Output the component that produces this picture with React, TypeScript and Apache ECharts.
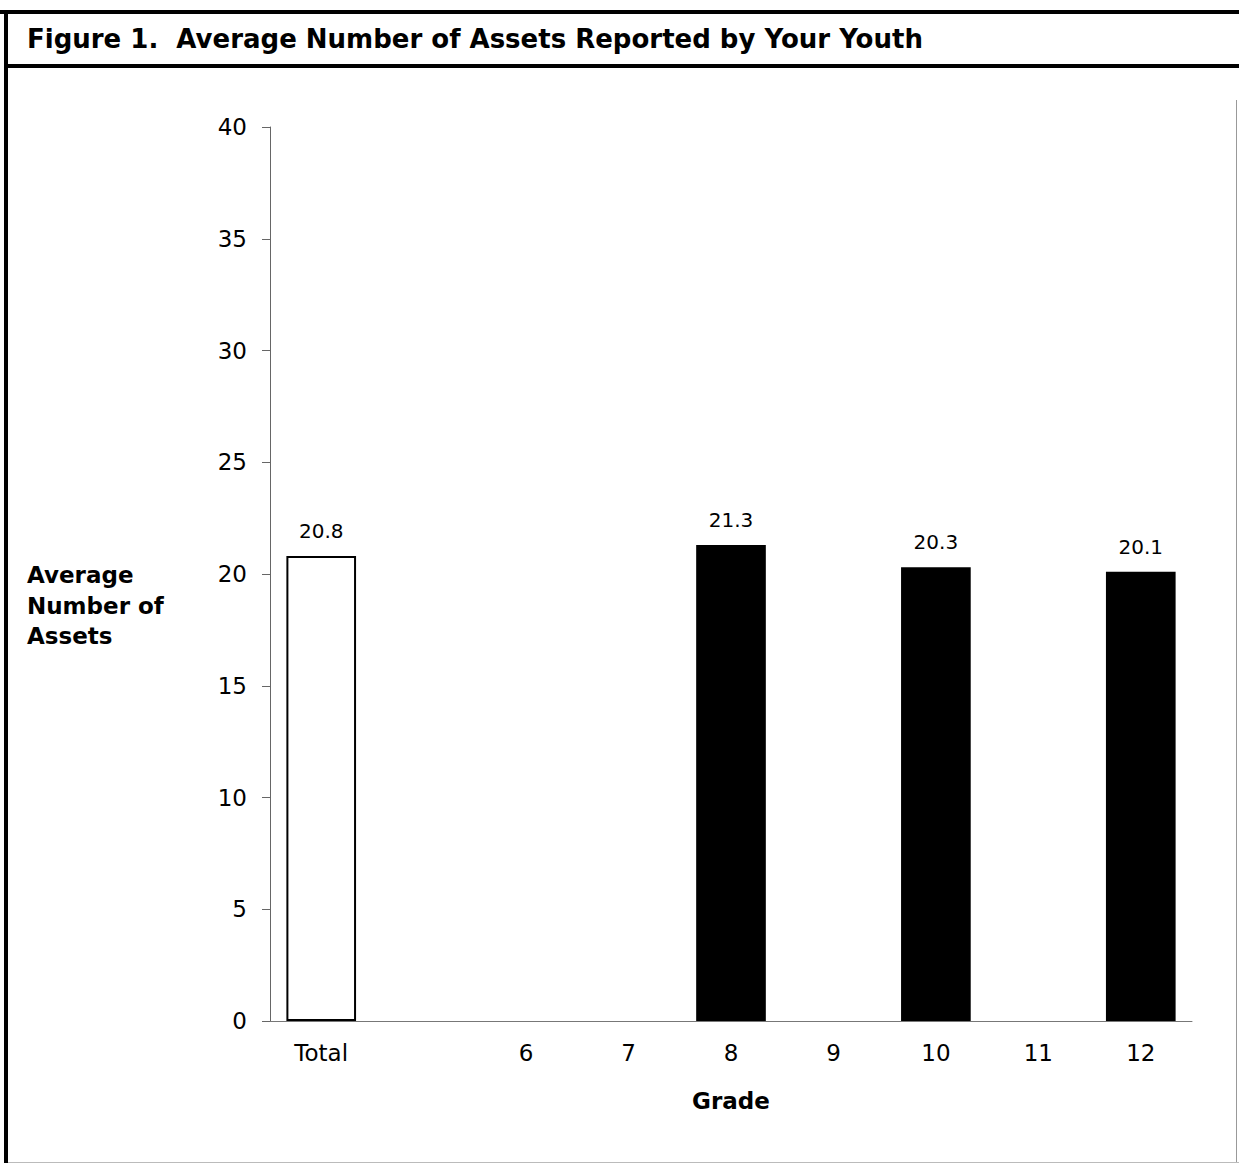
import React, { useEffect, useRef } from "react";
import * as echarts from "echarts";

const categories = ["Total", "", "6", "7", "8", "9", "10", "11", "12"];
const values: (number | null)[] = [20.8, null, null, null, 21.3, null, 20.3, null, 20.1];
const titleText = "Figure 1.  Average Number of Assets Reported by Your Youth";
const yAxisName = "Average\nNumber of\nAssets";
const xAxisName = "Grade";

export default function App() {
  const ref = useRef<HTMLDivElement>(null);
  useEffect(() => {
    if (!ref.current) return;
    const chart = echarts.init(ref.current, null, { renderer: "svg" });
    const font = "'DejaVu Sans', sans-serif";
    chart.setOption({
      animation: false,
      backgroundColor: "#ffffff",
      textStyle: { fontFamily: font },
      grid: { left: 270, right: 47, top: 127, bottom: 142, containLabel: false },
      xAxis: {
        type: "category",
        data: categories,
        axisLine: { show: true, lineStyle: { color: "#777", width: 1 } },
        axisTick: { show: false },
        axisLabel: { color: "#000", fontSize: 23, fontFamily: font, margin: 20 },
        name: xAxisName,
        nameLocation: "middle",
        nameGap: 68,
        nameTextStyle: { color: "#000", fontSize: 23, fontWeight: "bold", fontFamily: font },
      },
      yAxis: {
        type: "value",
        min: 0,
        max: 40,
        interval: 5,
        splitLine: { show: false },
        axisLine: { show: true, lineStyle: { color: "#666", width: 1 } },
        axisTick: { show: true, length: 8, lineStyle: { color: "#666", width: 1 } },
        axisLabel: { color: "#000", fontSize: 23, fontFamily: font, margin: 23 },
      },
      graphic: [
        { type: "rect", shape: { x: 0, y: 10, width: 1239, height: 4 }, style: { fill: "#000" } },
        { type: "rect", shape: { x: 4, y: 10, width: 4, height: 1153 }, style: { fill: "#000" } },
        { type: "rect", shape: { x: 4, y: 64, width: 1235, height: 4 }, style: { fill: "#000" } },
        { type: "line", shape: { x1: 1236.5, y1: 100, x2: 1236.5, y2: 1163 }, style: { stroke: "#999", lineWidth: 1 } },
        { type: "line", shape: { x1: 8, y1: 1162.5, x2: 1239, y2: 1162.5 }, style: { stroke: "#bbb", lineWidth: 1 } },
        {
          type: "text",
          left: 27,
          top: 26,
          style: { text: titleText, fill: "#000", font: `bold 26px ${font}` },
        },
        {
          type: "text",
          left: 27,
          top: 560,
          style: { text: yAxisName, fill: "#000", font: `bold 23px ${font}`, lineHeight: 30.5 },
        },
      ],
      series: [
        {
          type: "bar",
          barWidth: "68%",
          data: values.map((v, i) =>
            v === null
              ? null
              : {
                  value: v,
                  itemStyle:
                    i === 0
                      ? { color: "#fff", borderColor: "#000", borderWidth: 2 }
                      : { color: "#000", borderColor: "#000", borderWidth: 0 },
                }
          ),
          label: {
            show: true,
            position: "top",
            distance: 15,
            color: "#000",
            fontSize: 20,
            fontFamily: font,
            formatter: (p: any) => Number(p.value).toFixed(1),
          },
        },
      ],
    });
    return () => chart.dispose();
  }, []);
  return (
    <div
      ref={ref}
      style={{ position: "absolute", left: 0, top: 0, width: 1239, height: 1163 }}
    />
  );
}
